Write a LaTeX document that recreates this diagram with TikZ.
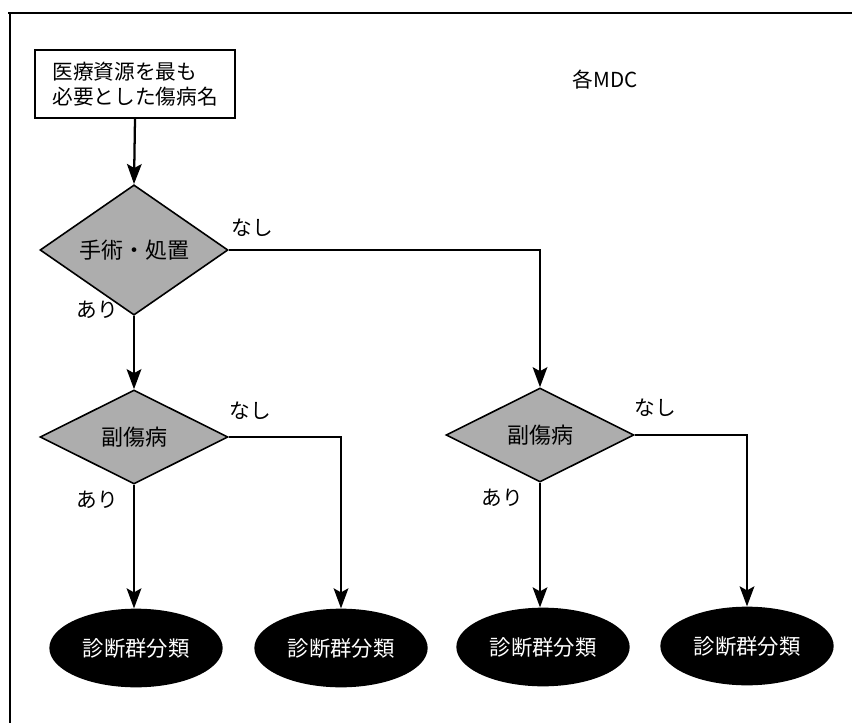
\documentclass[tikz,border=0pt]{standalone}
\usepackage{fontspec}
\setmainfont{Noto Sans CJK JP}
\usetikzlibrary{shapes.geometric,arrows.meta}
\begin{document}
\begin{tikzpicture}[x=0.75pt,y=-0.75pt,
  every node/.style={font=\fontsize{15.5pt}{19pt}\selectfont},
  arr/.style={line width=1.7pt,-{Stealth[length=15pt,width=11pt,inset=3pt]}},
  startbox/.style={draw,line width=1.2pt,minimum width=150pt,minimum height=51pt,inner sep=2pt,align=left},
  decide/.style={diamond,draw,line width=1.2pt,fill=black!32,inner sep=0pt,minimum width=141pt,minimum height=70.5pt,font=\fontsize{16.5pt}{19pt}\selectfont},
  result/.style={ellipse,fill=black,text=white,minimum width=130pt,minimum height=59pt,inner sep=0pt,font=\fontsize{16pt}{19pt}\selectfont},
  lbl/.style={inner sep=0pt}]
\useasboundingbox (0,0) rectangle (852,723);
% frame
\draw[line width=1.3pt] (8,13) -- (852,13);
\draw[line width=1pt] (10,13) -- (10,723);
% nodes
\node[startbox] (start) at (135,84) {医療資源を最も\\必要とした傷病名};
\node[lbl] (mdc) at (605,80) {各MDC};
\node[decide] (d1) at (134,250) {手術・処置};
\node[decide] (d2) at (134,437) {副傷病};
\node[decide] (d3) at (540,435) {副傷病};
\node[result] (r1) at (136,648) {診断群分類};
\node[result] (r2) at (341,648) {診断群分類};
\node[result] (r3) at (543,647) {診断群分類};
\node[result] (r4) at (747,646) {診断群分類};
% labels
\node[lbl] (n1) at (252,228) {なし};
\node[lbl] (a1) at (97,310) {あり};
\node[lbl] (n2) at (250,411) {なし};
\node[lbl] (a2) at (97,500) {あり};
\node[lbl] (n3) at (655,408) {なし};
\node[lbl] (a3) at (502,498) {あり};
% connectors
\draw[arr] (start.south) -- (d1.north);
\draw[arr] (d1.south) -- (d2.north);
\draw[arr] (d1.east) -| (d3.north);
\draw[arr] (d2.south) -- (d2.south |- r1.north);
\draw[arr] (d2.east) -| (r2.north);
\draw[arr] (d3.south) -- (d3.south |- r3.north);
\draw[arr] (d3.east) -| (r4.north);
\end{tikzpicture}
\end{document}
